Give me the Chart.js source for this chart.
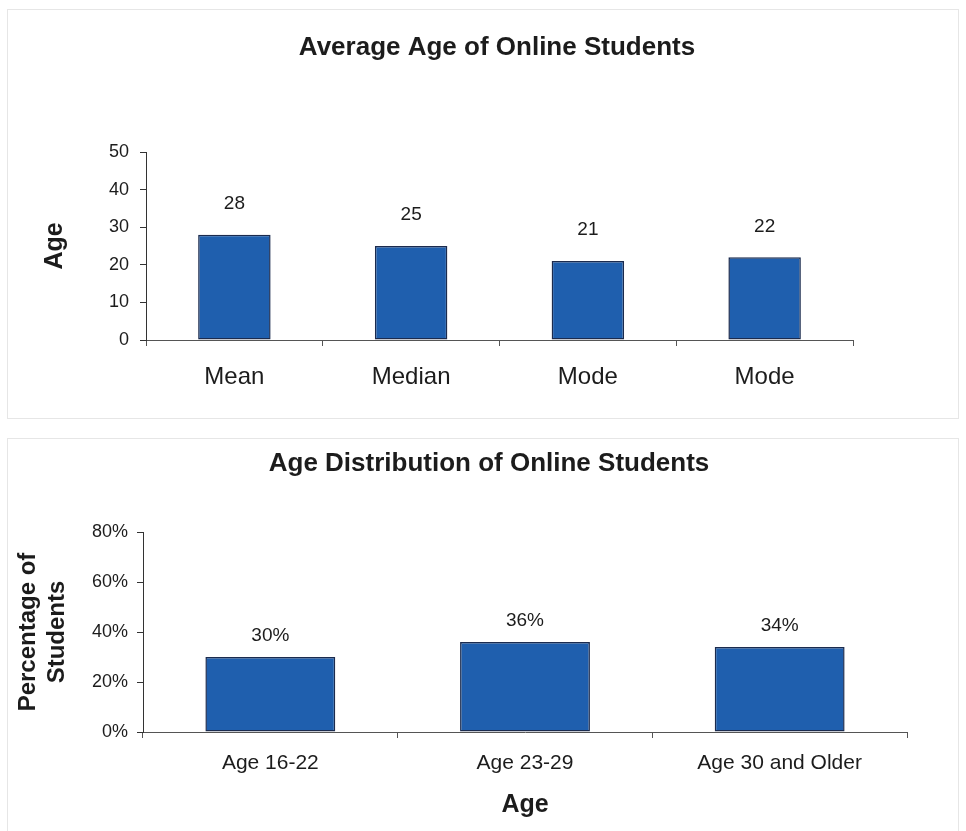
<!DOCTYPE html>
<html>
<head>
<meta charset="utf-8">
<script src="https://cdn.jsdelivr.net/npm/chart.js@4/dist/chart.umd.min.js"></script>
<style>
  html, body { margin:0; padding:0; background:#fff; }
  #wrap { position:relative; width:966px; height:831px; overflow:hidden; background:#fff; }
  .frame { position:absolute; border:1px solid #e6e6e6; }
  canvas { position:absolute; left:0; }
</style>
</head>
<body>
<div id="wrap">
  <div class="frame" style="left:7px; top:9px; width:950px; height:408px;"></div>
  <div class="frame" style="left:7px; top:438px; width:950px; height:420px;"></div>
  <canvas id="c1" width="966" height="420" style="top:0;"></canvas>
  <canvas id="c2" width="966" height="411" style="top:420px;"></canvas>
</div>
<script>
// ---- Chart 1 data ----
const avgTitle = 'Average Age of Online Students';
const avgCategories = ['Mean', 'Median', 'Mode', 'Mode'];
const avgValues = [28, 25, 21, 22];
const avgTicks = [0, 10, 20, 30, 40, 50];
const avgYTitle = 'Age';

// ---- Chart 2 data ----
const distTitle = 'Age Distribution of Online Students';
const distCategories = ['Age 16-22', 'Age 23-29', 'Age 30 and Older'];
const distValues = [30, 36, 34];
const distTicks = [0, 20, 40, 60, 80];
const distYTitle = ['Percentage of', 'Students'];
const distXTitle = 'Age';

const FONT = '"Liberation Sans", Arial, Helvetica, sans-serif';
const TXT = '#1c1c1c';
const BAR = '#1f5fae';
const BAR_EDGE = '#1b2b4e';

const valueLabels = {
  id: 'valueLabels',
  afterDatasetsDraw(chart, args, opts) {
    const ctx = chart.ctx;
    const meta = chart.getDatasetMeta(0);
    const data = chart.data.datasets[0].data;
    ctx.save();
    ctx.font = opts.size + 'px ' + FONT;
    ctx.fillStyle = TXT;
    ctx.textAlign = 'center';
    ctx.textBaseline = 'middle';
    meta.data.forEach((bar, i) => {
      ctx.fillText(opts.format(data[i]), bar.x, bar.y - opts.offset);
    });
    ctx.restore();
  }
};

function makeChart(id, cfg) {
  return new Chart(document.getElementById(id), {
    type: 'bar',
    data: {
      labels: cfg.labels,
      datasets: [{
        data: cfg.values,
        backgroundColor: BAR,
        borderColor: BAR_EDGE,
        borderWidth: 1.5,
        borderSkipped: false,
        categoryPercentage: 1,
        barPercentage: cfg.barPct
      }]
    },
    options: {
      responsive: false,
      animation: false,
      devicePixelRatio: 1,
      layout: { padding: { left: cfg.padLeft, right: 0, top: 0, bottom: 0 } },
      plugins: {
        legend: { display: false },
        tooltip: { enabled: false },
        title: {
          display: true,
          text: cfg.title,
          color: TXT,
          font: { family: FONT, size: 26, weight: 'bold', lineHeight: 1.2 },
          padding: { top: cfg.titleTop, bottom: cfg.titleBottom }
        },
        valueLabels: { size: 19, offset: cfg.labelOffset, format: cfg.fmt }
      },
      scales: {
        x: {
          offset: true,
          border: { display: true, color: '#555', width: 1 },
          grid: { display: true, offset: true, drawOnChartArea: false, drawTicks: true, tickLength: 6, color: '#555' },
          ticks: { color: TXT, padding: cfg.xPad, font: { family: FONT, size: cfg.xFont, lineHeight: 1.2 }, maxRotation: 0, autoSkip: false },
          title: cfg.xTitle ? {
            display: true, text: cfg.xTitle, color: TXT,
            font: { family: FONT, size: 25, weight: 'bold', lineHeight: 1.2 },
            padding: { top: 0, bottom: 11 }
          } : { display: false },
          afterFit(scale) { scale.height = cfg.xHeight; }
        },
        y: {
          min: cfg.ticks[0],
          max: cfg.ticks[cfg.ticks.length - 1],
          border: { display: true, color: '#333', width: 1 },
          grid: { display: true, drawOnChartArea: false, drawTicks: true, tickLength: 6, color: '#333' },
          ticks: { color: TXT, padding: cfg.yPad, font: { family: FONT, size: 18 }, callback: cfg.tickFmt },
          afterBuildTicks(scale) { scale.ticks = cfg.ticks.map(v => ({ value: v })); },
          title: {
            display: true, text: cfg.yTitle, color: TXT,
            font: { family: FONT, size: cfg.yTitleSize, weight: 'bold', lineHeight: cfg.yTitleLH },
            padding: { top: cfg.yTitlePad, bottom: 0 }
          },
          afterFit(scale) { scale.width = cfg.yWidth; }
        },
        // empty right-hand margin so the title centres over the whole frame
        spacer: {
          type: 'linear',
          position: 'right',
          display: true,
          border: { display: false },
          grid: { display: false },
          ticks: { display: false },
          afterFit(scale) { scale.width = cfg.rightGap; }
        }
      }
    },
    plugins: [valueLabels]
  });
}

makeChart('c1', {
  labels: avgCategories, values: avgValues, ticks: avgTicks,
  title: avgTitle, titleTop: 32, titleBottom: 88.8,
  barPct: 0.41, padLeft: 28, rightGap: 113, xHeight: 80, xPad: 17, xFont: 24,
  yWidth: 118, yPad: 11, yTitle: avgYTitle, yTitleSize: 25, yTitleLH: 1.2, yTitlePad: 12,
  labelOffset: 31, fmt: v => String(v), tickFmt: v => String(v)
});

makeChart('c2', {
  labels: distCategories, values: distValues, ticks: distTicks,
  title: distTitle, titleTop: 28, titleBottom: 52.8,
  barPct: 0.51, padLeft: 12, rightGap: 59, xHeight: 99, xPad: 13, xFont: 21, xTitle: distXTitle,
  yWidth: 131, yPad: 9, yTitle: distYTitle, yTitleSize: 24, yTitleLH: 1.22, yTitlePad: 1.5,
  labelOffset: 21, fmt: v => v + '%', tickFmt: v => v + '%'
});
</script>
</body>
</html>
